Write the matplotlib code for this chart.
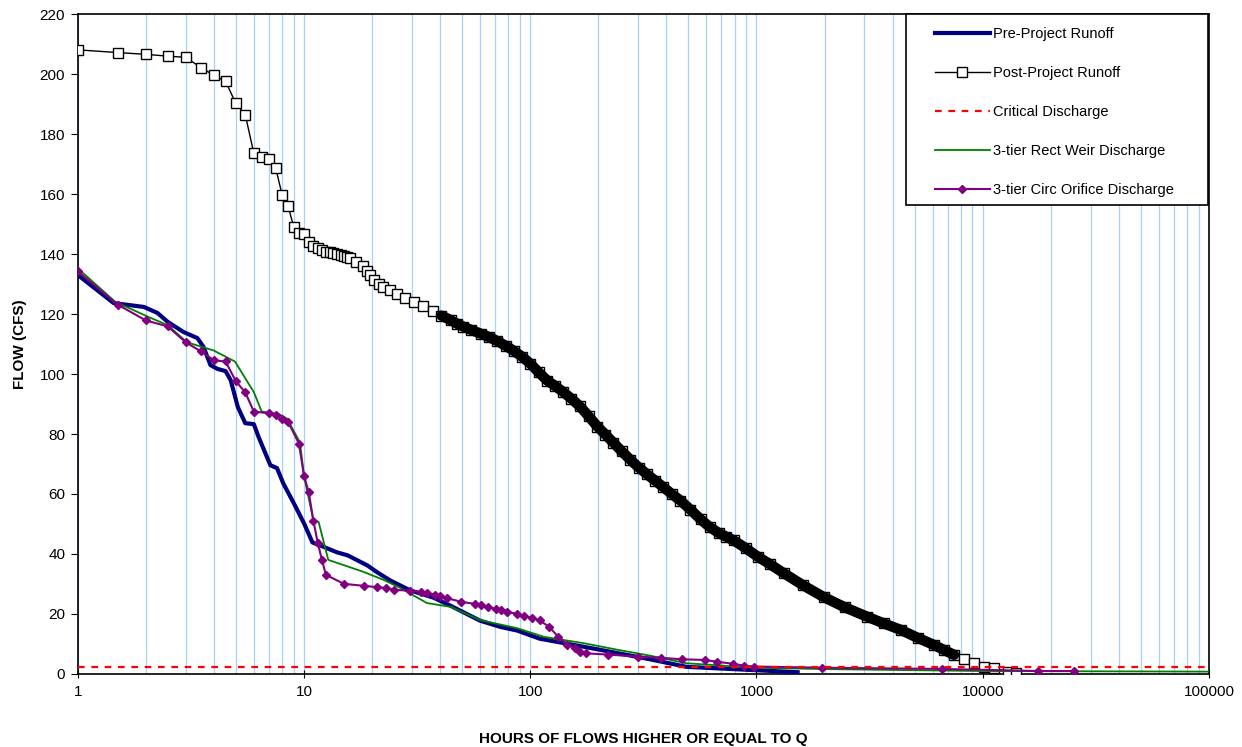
import matplotlib
matplotlib.use("Agg")
import matplotlib.pyplot as plt
from matplotlib.patches import Rectangle
from matplotlib.ticker import LogLocator, FixedLocator, NullFormatter

plt.rcParams['font.family'] = ['Liberation Sans', 'DejaVu Sans']
plt.rcParams['font.size'] = 11

# hours of flow >= Q (x) and flow in cfs (y)
pre_x = [1, 1.44, 1.96, 2.25, 2.5, 2.94, 3.38, 3.6, 3.86, 4.15, 4.5, 4.74, 5.1, 5.5, 6, 6.3,
         7.1, 7.6, 8.1, 9, 10, 10.9, 11.8, 14, 15.6, 19.1, 21.1, 24.1, 29.5, 37.3, 44.4, 60,
         74, 87.6, 110, 146, 203, 339, 490, 975, 1520]
pre_y = [133.1, 123.7, 122.4, 120.4, 117.4, 114, 112, 109, 103, 101.7, 101, 98, 89, 83.6, 83.3, 79,
         69.6, 68.6, 63.5, 57, 50.2, 43.8, 42.8, 40.5, 39.5, 36.1, 33.8, 31.1, 27.8, 25.4, 22.7, 17.7,
         15.6, 14.4, 11.7, 10, 8.0, 4.8, 2.3, 1.2, 0.5]

post_x = [1, 1.5, 2, 2.5, 3, 3.5, 4, 4.5, 5, 5.5, 6, 6.5, 7, 7.5, 8, 8.5, 9, 9.5, 10, 10.5,
          11, 11.5, 12, 12.5, 13, 13.5, 14, 14.5, 15, 15.5, 16, 17, 18.3, 19, 19.6, 20.4, 21.4,
          22.4, 24, 25.8, 28, 30.5, 33.5, 37.3, 40.5, 44.5, 47.5, 50.7, 55, 60.3, 65.5, 71.6, 78,
          84.4, 92, 100, 109, 119, 129, 140, 152, 166, 181, 198, 215, 233, 254, 277, 302, 329,
          357, 387, 422, 461, 510, 567, 620, 680, 735, 794, 900, 1011, 1150, 1318, 1600, 1980,
          2450, 3090, 3650, 4350, 5150, 6090, 6750, 7470, 8300, 9160, 10130, 11200, 12900, 14000]
post_y = [208.2, 207.3, 206.7, 206.1, 205.7, 202.3, 199.7, 197.7, 190.3, 186.6, 173.7, 172.4, 171.8,
          168.7, 159.9, 156.2, 149.2, 147.2, 146.6, 144.2, 142.8, 142, 141.3, 140.8, 140.6, 140.5,
          140.1, 139.8, 139.5, 139.2, 138.8, 137.5, 136.2, 134.5, 133, 131.4, 130.2, 129.2, 128,
          126.8, 125.5, 124.2, 122.6, 121, 119.5, 118, 116.8, 115.8, 114.7, 113.5, 112.4, 111,
          109.4, 107.8, 105.8, 103.5, 100.6, 97.8, 96, 94, 91.8, 89.2, 86, 82.5, 79.8, 77.1, 74.2,
          71.4, 68.8, 66.5, 64.4, 62.3, 60, 57.8, 54.8, 51.5, 49, 47, 45.7, 44.5, 41.8, 39.1, 36.5,
          33.6, 29.6, 25.6, 22.2, 19, 16.8, 14.6, 12, 9.6, 7.9, 6.3, 5, 3.6, 2.3, 1.9, 0.6, 0.3]

critical_q = 2.4

weir_x = [1, 1.46, 2.02, 2.5, 3.04, 3.98, 4.95, 6, 6.5, 7.8, 8.4, 9.6, 10, 11, 11.6, 12.8, 14.9,
          18.3, 22.5, 26.7, 34.9, 44.6, 60, 87.5, 115, 172, 243, 340, 490, 975, 2200, 10000, 100000]
weir_y = [135.3, 124.2, 119.3, 116.3, 110.6, 107.9, 104.2, 94, 87.5, 86.5, 85.2, 77.2, 66, 51.3,
          50.7, 38, 36.3, 34, 31.3, 28.6, 23.6, 22.3, 17.9, 15.2, 12.3, 10.2, 8.0, 6.0, 3.5, 2.0,
          1.5, 0.9, 0.7]

orif_x = [1, 1.5, 2, 2.5, 3, 3.5, 4, 4.5, 5, 5.5, 6, 7, 7.5, 8, 8.5, 9.5, 10, 10.5, 11, 11.5,
          12, 12.5, 15, 18.5, 21, 23, 25, 29.5, 33, 35, 38, 40, 43, 49.5, 57, 60.5, 65, 70.5,
          74.5, 79, 87.5, 94, 102, 110, 121, 133, 146, 157, 166, 177, 220, 300, 380, 470, 590,
          670, 790, 880, 975, 1950, 6600, 17600, 25300]
orif_y = [134.3, 123.2, 117.9, 115.9, 110.6, 107.6, 104.6, 104.2, 97.6, 93.9, 87.5, 86.9, 86.3,
          85.1, 84.1, 76.8, 66.1, 60.5, 51.1, 43.7, 38, 33, 30, 29.3, 28.9, 28.6, 28, 27.7, 27.3,
          26.9, 26.4, 25.8, 25.2, 24, 23.3, 22.8, 22.3, 21.6, 21.1, 20.6, 20, 19.2, 18.6, 17.8,
          15.7, 12.3, 9.6, 8.6, 7.3, 6.8, 6.4, 5.7, 5.3, 4.8, 4.6, 4.0, 3.3, 2.7, 2.4, 2.0, 1.6,
          0.9, 0.9]

W, H = 1242, 747
fig = plt.figure(figsize=(W / 100, H / 100), dpi=100)
ax = fig.add_axes([0.0626, 0.0981, 0.9108, 0.8825])

ax.plot(pre_x, pre_y, color='#000080', lw=3, label='Pre-Project Runoff', zorder=4)

ax.plot(post_x, post_y, color='black', lw=1, marker='s', ms=7.5, mfc='white', mec='black',
        mew=1, label='Post-Project Runoff', zorder=3)
# dense part of post-project curve: the overlapping markers read as a solid band
dense = [(x, y) for x, y in zip(post_x, post_y) if 40 <= x <= 8000]
ax.plot([d[0] for d in dense], [d[1] for d in dense], color='black', lw=7.5,
        solid_capstyle='round', zorder=3.5)

ax.axhline(critical_q, color='#FF0000', lw=1.6, ls=(0, (3, 3)), label='Critical Discharge',
           zorder=5)
ax.plot(weir_x, weir_y, color='#008000', lw=1.3, label='3-tier Rect Weir Discharge', zorder=4)
ax.plot(orif_x, orif_y, color='#800080', lw=1.5, marker='D', ms=4, label='3-tier Circ Orifice Discharge',
        zorder=4)

ax.set_xscale('log')
ax.set_xlim(1, 100000)
ax.set_ylim(0, 220)
ax.set_yticks(range(0, 221, 20))
ax.xaxis.set_major_locator(FixedLocator([1, 10, 100, 1000, 10000, 100000]))
ax.set_xticklabels(['1', '10', '100', '1000', '10000', '100000'])
ax.xaxis.set_minor_locator(LogLocator(base=10, subs=range(2, 10)))
ax.xaxis.set_minor_formatter(NullFormatter())
ax.tick_params(axis='x', which='major', direction='inout', length=6, pad=5)
ax.tick_params(axis='x', which='minor', length=0)
ax.tick_params(axis='y', direction='out', length=5, pad=4)
ax.xaxis.grid(True, which='both', color='#A8D0F8', lw=0.9)
ax.set_axisbelow(True)
for s in ax.spines.values():
    s.set_color('black')
    s.set_linewidth(1.2)

ax.set_xlabel('HOURS OF FLOWS HIGHER OR EQUAL TO Q', fontweight='bold', labelpad=24)
ax.set_ylabel('FLOW (CFS)', fontweight='bold', labelpad=9)

# legend box drawn at its place in the top right corner
box = Rectangle((906 / W, 1 - 205 / H), 302 / W, 191 / H, transform=fig.transFigure,
                facecolor='white', edgecolor='black', lw=1.2, zorder=5)
fig.patches.append(box)
handles, labels = ax.get_legend_handles_labels()
leg = fig.legend(handles, labels, loc='upper left', bbox_to_anchor=(935 / W, 1 - 27 / H),
                 bbox_transform=fig.transFigure, frameon=False, borderaxespad=0, borderpad=0,
                 labelspacing=1.72, handlelength=3.75, handletextpad=0.2, fontsize=10.5)
leg.set_zorder(6)

fig.savefig('out.png', dpi=100)
